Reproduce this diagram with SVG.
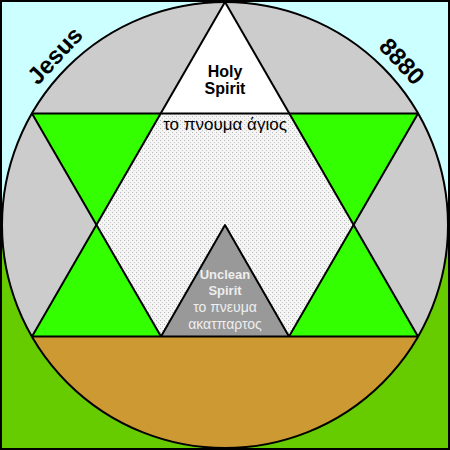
<svg xmlns="http://www.w3.org/2000/svg" width="450" height="450" viewBox="0 0 450 450">
  <style>
    .ln { stroke: #000; stroke-width: 2; fill: none; stroke-linejoin: round; }
    .green { fill: #33ff00; }
    .lbl { font-family: "Liberation Sans", Arial, sans-serif; text-anchor: middle; }
    .b { font-weight: bold; }
  </style>
  <defs>
    <pattern id="stip" width="4" height="4" patternUnits="userSpaceOnUse">
      <rect width="4" height="4" fill="#f4f4f4"/>
      <rect x="0" y="0" width="1" height="1" fill="#b8b8b8"/>
      <rect x="2" y="2" width="1" height="1" fill="#c8c8c8"/>
      <rect x="3" y="1" width="1" height="1" fill="#ffffff"/>
    </pattern>
  </defs>

  <g id="background">
    <rect x="0" y="0" width="450" height="450" fill="#ccffff"/>
    <rect x="0" y="247" width="450" height="203" fill="#66cc00"/>
  </g>

  <g id="circle">
    <circle cx="225" cy="225" r="223" fill="#cccccc"/>
    <path d="M32,336.5 L418,336.5 A223,223 0 0 1 32,336.5 Z" fill="#cc9933"/>
  </g>

  <g id="center-hexagon">
    <polygon points="161,113.5 289,113.5 354,225 289,336.5 161,336.5 96,225" fill="url(#stip)"/>
  </g>

  <g id="holy-spirit">
    <polygon points="225,2 161,113.5 289,113.5" fill="#ffffff"/>
    <text class="lbl b" x="225" y="77" font-size="16">Holy</text>
    <text class="lbl b" x="225" y="94" font-size="16">Spirit</text>
  </g>

  <g id="green-triangles">
    <polygon class="green" points="32,113.5 161,113.5 96,225"/>
    <polygon class="green" points="96,225 32,336.5 161,336.5"/>
    <polygon class="green" points="289,113.5 418,113.5 354,225"/>
    <polygon class="green" points="354,225 289,336.5 418,336.5"/>
  </g>

  <g id="unclean-spirit">
    <polygon points="225,225 161,336.5 289,336.5" fill="#999999"/>
    <text class="lbl b" x="225" y="279" font-size="13" fill="#eeeeee">Unclean</text>
    <text class="lbl b" x="225" y="295" font-size="13" fill="#eeeeee">Spirit</text>
    <text class="lbl" x="225" y="312" font-size="14" fill="#eeeeee">το πνευμα</text>
    <text class="lbl" x="225" y="329" font-size="14" fill="#eeeeee">ακατπαρτος</text>
  </g>

  <g id="connectors">
    <circle cx="225" cy="225" r="223" class="ln"/>
    <line x1="32" y1="113.5" x2="418" y2="113.5" class="ln"/>
    <line x1="32" y1="336.5" x2="418" y2="336.5" class="ln"/>
    <line x1="225" y1="2" x2="32" y2="336.5" class="ln"/>
    <line x1="225" y1="2" x2="418" y2="336.5" class="ln"/>
    <line x1="32" y1="113.5" x2="161" y2="336.5" class="ln"/>
    <line x1="418" y1="113.5" x2="289" y2="336.5" class="ln"/>
    <polyline points="161,336.5 225,225 289,336.5" class="ln"/>
  </g>

  <g id="labels">
    <text class="lbl" x="225" y="130" font-size="17">το πνουμα άγιος</text>
    <text class="lbl b" x="0" y="0" font-size="24" transform="translate(61,61) rotate(-47)">Jesus</text>
    <text class="lbl b" x="0" y="0" font-size="24" transform="translate(396,67) rotate(47)">8880</text>
  </g>

  <rect x="1" y="1" width="448" height="448" fill="none" stroke="#000" stroke-width="2"/>
</svg>
